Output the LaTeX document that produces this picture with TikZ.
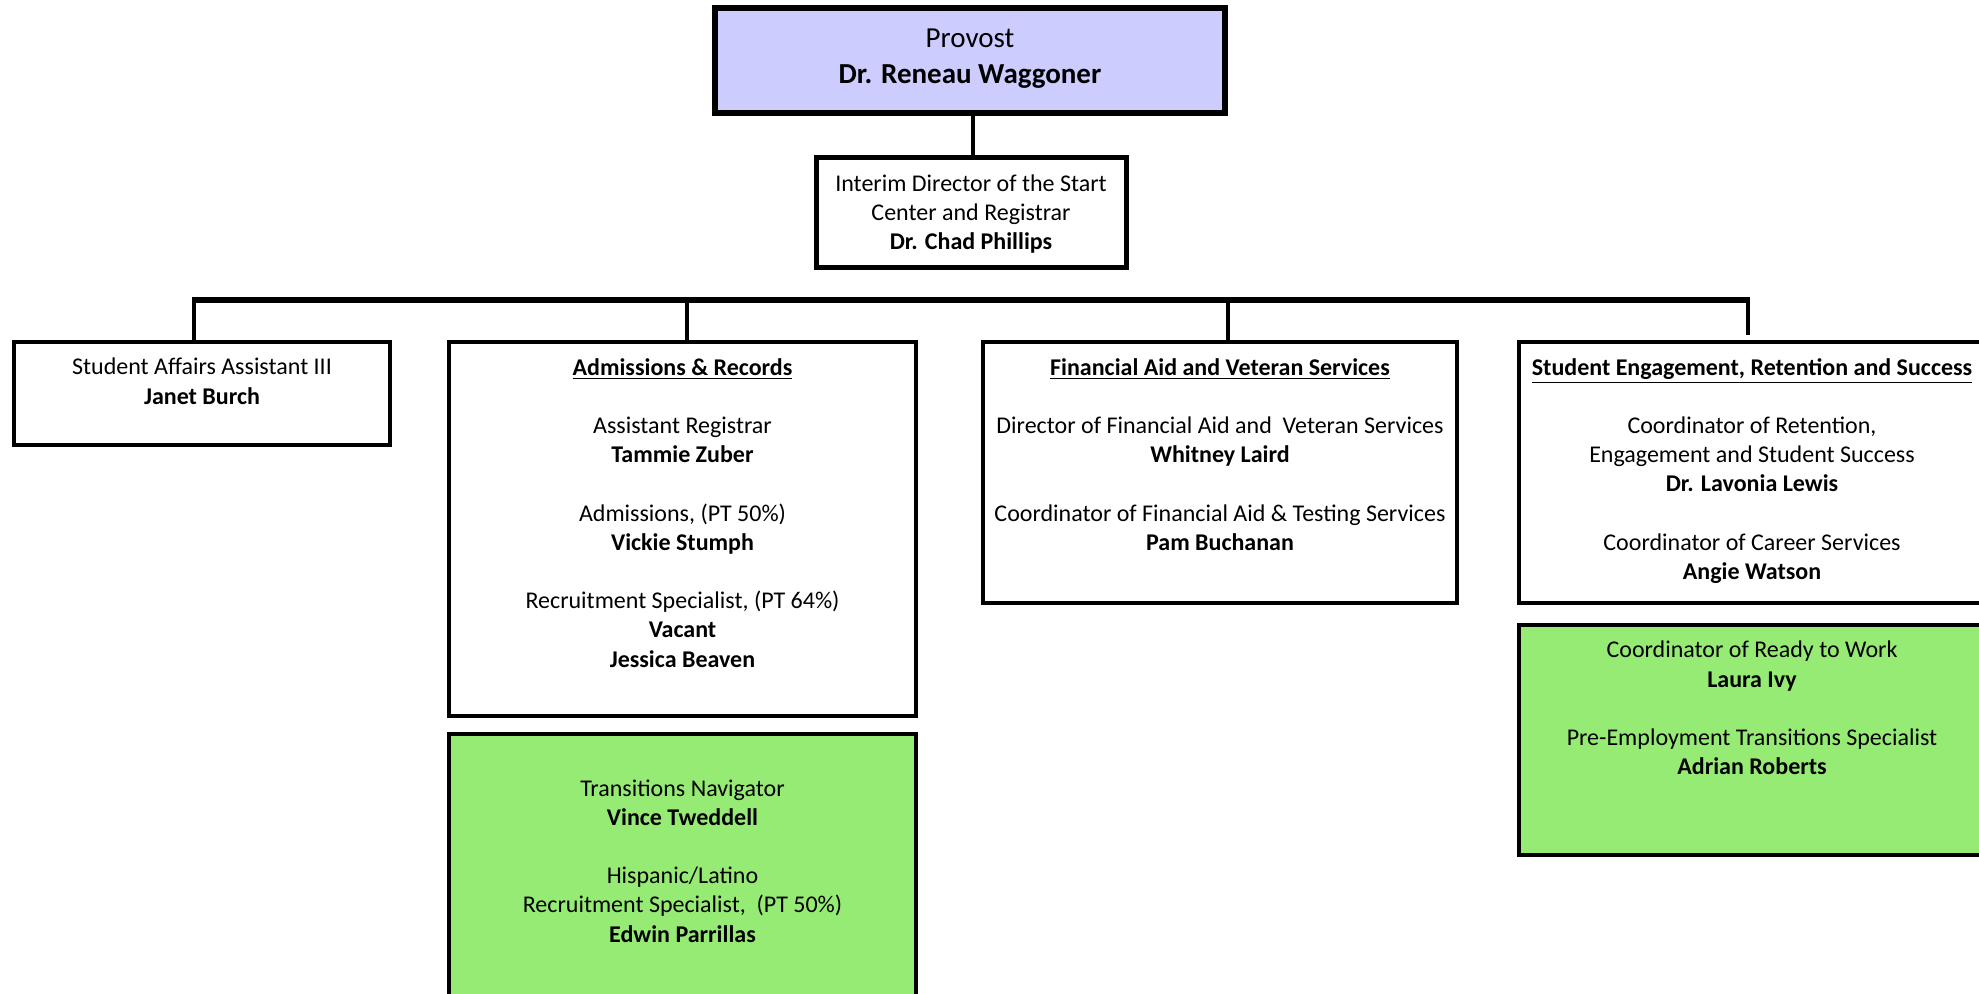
\documentclass[tikz,border=0pt]{standalone}
\usepackage{fontspec}
\setmainfont{Carlito}
\definecolor{lav}{HTML}{CCCCFF}
\definecolor{lgreen}{HTML}{96EB75}
\tikzset{
  orgbox/.style={draw=black, line width=1.75pt, inner sep=0pt, rectangle},
  txt/.style={anchor=north, inner sep=0pt, align=center, font=\fontsize{12}{14.6}\selectfont, execute at begin node=\strut},
  link/.style={line width=2pt},
  busline/.style={line width=2.6pt}
}
\begin{document}
\begin{tikzpicture}[x=0.5pt,y=-0.5pt]
\path[use as bounding box] (0,0) rectangle (1979,993);
\clip (0,0) rectangle (1979,993);
% boxes
\node[orgbox, fill=lav, line width=3pt, minimum width=255pt, minimum height=52.5pt] (provost) at (970,60.5) {};
\node[orgbox, line width=2.5pt, minimum width=155pt, minimum height=55pt] (director) at (971,212) {};
\node[orgbox, minimum width=188pt, minimum height=51.5pt] (b1) at (202,393.5) {};
\node[orgbox, minimum width=233.5pt, minimum height=187pt] (b2) at (682.5,529) {};
\node[orgbox, fill=lgreen, minimum width=233.5pt, minimum height=143pt] (b2b) at (682.5,877) {};
\node[orgbox, minimum width=237pt, minimum height=130.5pt] (b3) at (1220,472.5) {};
\node[orgbox, minimum width=233pt, minimum height=130.5pt] (b4) at (1752,472.5) {};
\node[orgbox, fill=lgreen, minimum width=233pt, minimum height=115pt] (b4b) at (1752,740) {};
% texts
\node[txt, font=\fontsize{14.5}{18}\selectfont, yshift=-11.7pt] (tprov) at (provost.north) {Provost\\\textbf{Dr. Reneau Waggoner}};
\node[txt, yshift=-9.8pt] (tdir) at (director.north) {Interim Director of the Start\\Center and Registrar\\\textbf{Dr. Chad Phillips}};
\node[txt, yshift=-8.8pt] (t1) at (b1.north) {Student Affairs Assistant III\\\textbf{Janet Burch}};
\node[txt, yshift=-8.8pt] (t2) at (b2.north) {\underline{\textbf{Admissions \& Records}}\\~\\Assistant Registrar\\\textbf{Tammie Zuber}\\~\\Admissions, (PT 50\%)\\\textbf{Vickie Stumph}\\~\\Recruitment Specialist, (PT 64\%)\\\textbf{Vacant}\\\textbf{Jessica Beaven}};
\node[txt, yshift=-23.4pt] (t2b) at (b2b.north) {Transitions Navigator\\\textbf{Vince Tweddell}\\~\\Hispanic/Latino\\Recruitment Specialist,\ \ (PT 50\%)\\\textbf{Edwin Parrillas}};
\node[txt, yshift=-8.8pt] (t3) at (b3.north) {\underline{\textbf{Financial Aid and Veteran Services}}\\~\\Director of Financial Aid and\ \ Veteran Services\\\textbf{Whitney Laird}\\~\\Coordinator of Financial Aid \& Testing Services\\\textbf{Pam Buchanan}};
\node[txt, yshift=-8.8pt] (t4) at (b4.north) {\underline{\textbf{Student Engagement, Retention and Success}}\\~\\Coordinator of Retention,\\Engagement and Student Success\\\textbf{Dr. Lavonia Lewis}\\~\\Coordinator of Career Services\\\textbf{Angie Watson}};
\node[txt, yshift=-8.8pt] (t4b) at (b4b.north) {Coordinator of Ready to Work\\\textbf{Laura Ivy}\\~\\Pre-Employment Transitions Specialist\\\textbf{Adrian Roberts}};
% connectors
\draw[link] ([xshift=1.5pt]provost.south) -- ([xshift=1.5pt]provost.south |- director.north);
\coordinate (d1) at (194,300);
\coordinate (d2) at (687,300);
\coordinate (d3) at (1228,300);
\coordinate (d4) at (1748,300);
\draw[busline] ([xshift=-1pt]d1) -- ([xshift=1pt]d4);
\draw[link] (d1) -- (d1 |- b1.north);
\draw[link] (d2) -- (d2 |- b2.north);
\draw[link] (d3) -- (d3 |- b3.north);
\draw[link] (d4) -- ([yshift=2.5pt]d4 |- b4.north);
\end{tikzpicture}
\end{document}
